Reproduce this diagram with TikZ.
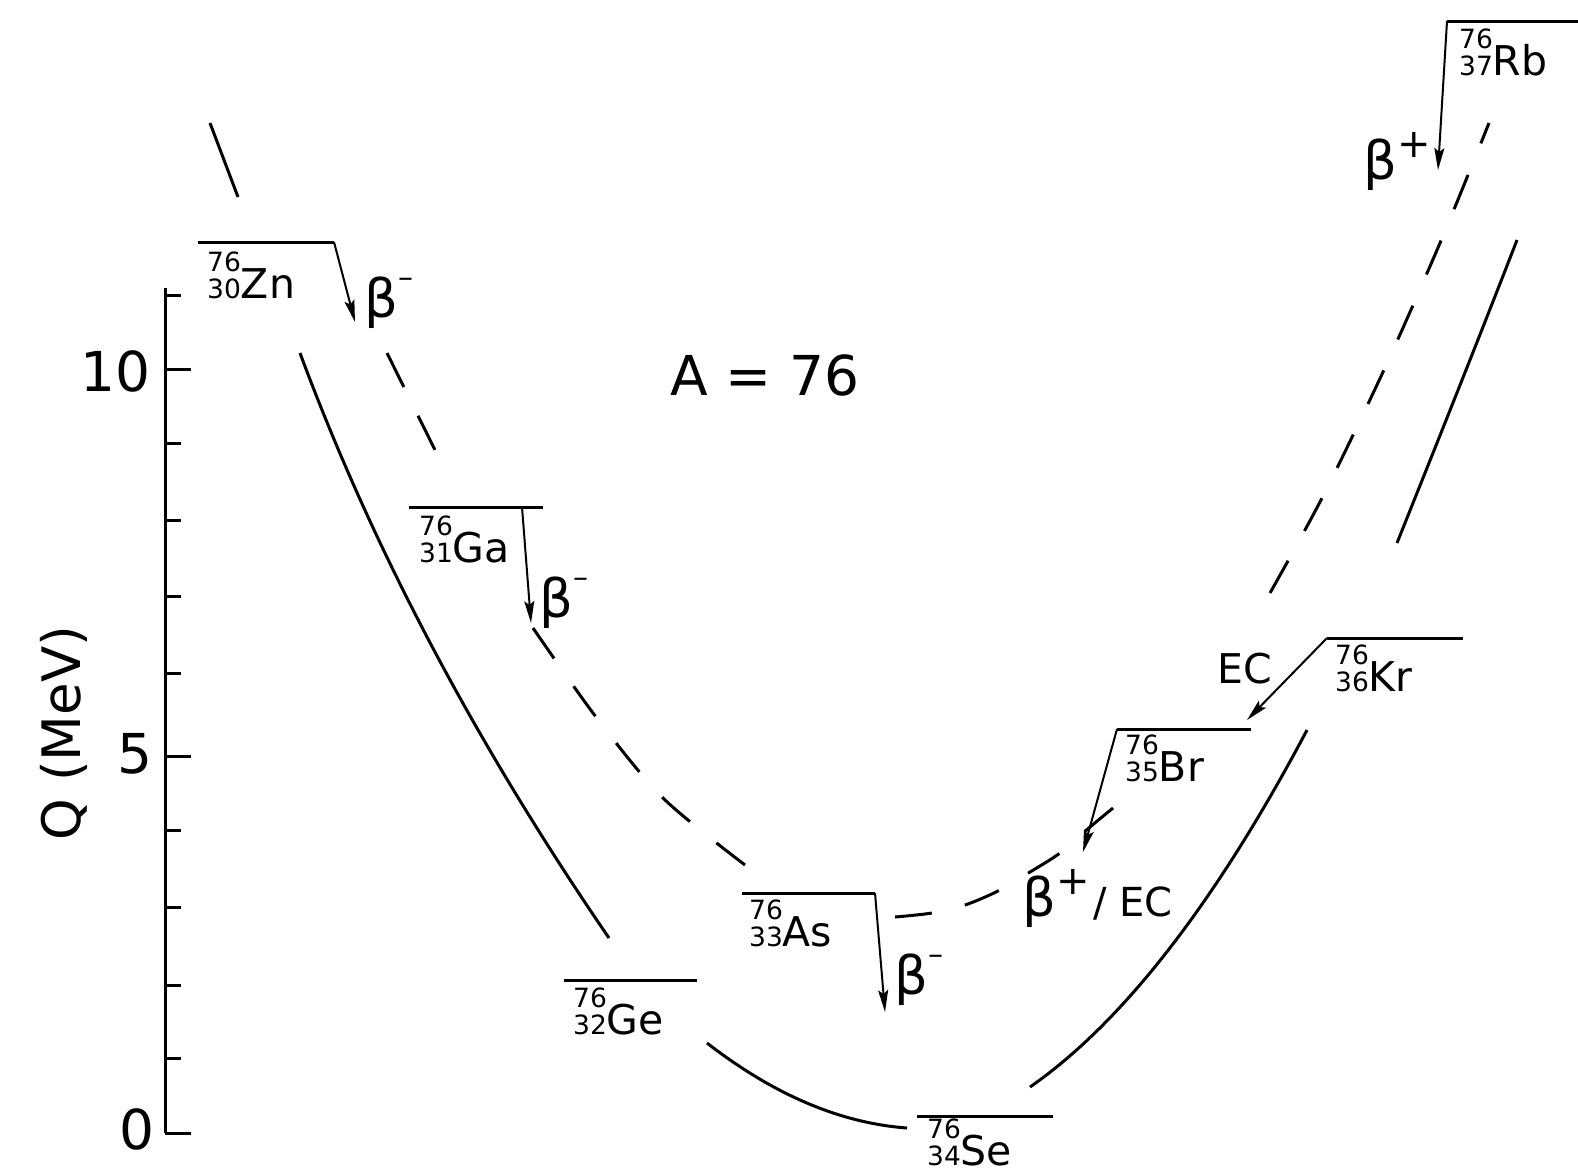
\documentclass[tikz,border=0pt]{standalone}
\usepackage{fontspec}
\setmainfont{DejaVu Sans}
\usetikzlibrary{arrows.meta}
\newcommand{\nucl}[3]{{\fontsize{26.5}{24}\selectfont\begin{tabular}[b]{@{}r@{}}#1\\#2\end{tabular}}#3}
\newcommand{\bmin}{β\raisebox{30pt}{\fontsize{30}{30}\selectfont –}}
\newcommand{\bplus}{β\raisebox{22pt}{\fontsize{40}{40}\selectfont +}}
\tikzset{
  lvl/.style={line width=3pt},
  curve/.style={line width=3pt},
  dsh/.style={line width=3pt, dash pattern=on 37pt off 34pt},
  decay/.style={line width=2pt, -{Stealth[length=22pt,width=10pt,inset=4pt]}},
  lab/.style={inner sep=0pt, anchor=base west, font=\fontsize{41}{41}\selectfont},
  beta/.style={inner sep=0pt, anchor=base west, font=\fontsize{53}{53}\selectfont},
  big/.style={inner sep=0pt, font=\fontsize{55}{55}\selectfont},
  tick/.style={line width=3pt},
}
\begin{document}
\begin{tikzpicture}[x=1pt,y=-1pt]
\useasboundingbox (0,0) rectangle (1578,1173);
% axis
\coordinate (axtop) at (165,288);
\coordinate (axbot) at (165,1133);
\draw[tick] (axtop) -- (axbot);
\foreach \t in {295,443,520,596,673,830,907,985,1058}
  \draw[tick] (165,\t) -- (181,\t);
\foreach \t in {369,756,1133}
  \draw[tick] (165,\t) -- (191,\t);
\node[big, anchor=east] (l10) at (151,371) {10};
\node[big, anchor=east] (l5) at (153,754) {5};
\node[big, anchor=east] (l0) at (155,1129) {0};
\node[big, rotate=90, anchor=base, font=\fontsize{53}{53}\selectfont] (qlab) at (80,733) {Q (MeV)};
\node[big, anchor=base] (alab) at (765,395) {A = 76};

% solid parabola (even-even)
\draw[curve] (300,353) .. controls (372.2,547.7) and (475.2,742.7) .. (609,938);
\draw[curve] (707,1043) .. controls (773.7,1094.7) and (840.3,1123.1) .. (907,1128);
\draw[curve] (1030,1087) .. controls (1122,1023) and (1215,904) .. (1307,730);
\draw[curve] (1397,543) .. controls (1437,443) and (1477,343) .. (1517,240);

% dashed parabola (odd-odd)
\draw[curve] (210,123) -- (238,197);
\draw[line width=3pt, dash pattern=on 38pt off 32pt] (387,353) -- (435,450);
\draw[dsh] plot[smooth] coordinates {(533,628) (596,717) (663,798) (745,865)};
\draw[dsh] plot[smooth] coordinates {(895,917) (932,913) (965,905) (998,891) (1030,872) (1060,853) (1090,827) (1113,808)};
\draw[dsh] plot[smooth] coordinates {(1270,593) (1322,498) (1383,372) (1440,243) (1489,123)};

% levels
\coordinate (zn1) at (198,242); \coordinate (zn2) at (334,242);
\coordinate (ga1) at (409,507); \coordinate (ga2) at (543,507); \coordinate (gaa) at (522,507);
\coordinate (ge1) at (564,980); \coordinate (ge2) at (697,980);
\coordinate (as1) at (742,893); \coordinate (as2) at (875,893);
\coordinate (se1) at (917,1116); \coordinate (se2) at (1053,1116);
\coordinate (br1) at (1117,729); \coordinate (br2) at (1251,729);
\coordinate (kr1) at (1327,638); \coordinate (kr2) at (1463,638);
\coordinate (rb1) at (1447,21); \coordinate (rb2) at (1578,21);
\draw[lvl] (zn1) -- (zn2);
\draw[lvl] (ga1) -- (ga2);
\draw[lvl] (ge1) -- (ge2);
\draw[lvl] (as1) -- (as2);
\draw[lvl] (se1) -- (se2);
\draw[lvl] (br1) -- (br2);
\draw[lvl] (kr1) -- (kr2);
\draw[lvl] (rb1) -- (rb2);

% decay arrow ends
\coordinate (znt) at (355,322);
\coordinate (gat) at (531,623);
\coordinate (ast) at (885,1012);
\coordinate (brt) at (1083,852);
\coordinate (krt) at (1247,720);
\coordinate (rbt) at (1438,170);
\draw[decay] (zn2) -- (znt);
\draw[decay] (gaa) -- (gat);
\draw[decay] (as2) -- (ast);
\draw[decay] (br1) -- (brt);
\draw[decay] (kr1) -- (krt);
\draw[decay] (rb1) -- (rbt);

% nuclide labels
\node[lab] (nzn) at (207,298) {\nucl{76}{30}{Zn}};
\node[lab] (nga) at (419,562) {\nucl{76}{31}{Ga}};
\node[lab] (nge) at (573,1034) {\nucl{76}{32}{Ge}};
\node[lab] (nas) at (749,946) {\nucl{76}{33}{As}};
\node[lab] (nse) at (927,1165) {\nucl{76}{34}{Se}};
\node[lab] (nbr) at (1125,781) {\nucl{76}{35}{Br}};
\node[lab] (nkr) at (1335,691) {\nucl{76}{36}{Kr}};
\node[lab] (nrb) at (1459,75) {\nucl{76}{37}{Rb}};

% decay mode labels
\node[beta] (bzn) at (364,317) {\bmin};
\node[beta] (bga) at (539,617) {\bmin};
\node[beta] (bas) at (894,994) {\bmin};
\node[beta] (brb) at (1363,179) {\bplus};
\node[beta] (bbr) at (1022,916) {\bplus\hspace{4pt}{\fontsize{40}{40}\selectfont/ EC}};
\node[lab] (ekr) at (1217,683) {EC};
\end{tikzpicture}
\end{document}
